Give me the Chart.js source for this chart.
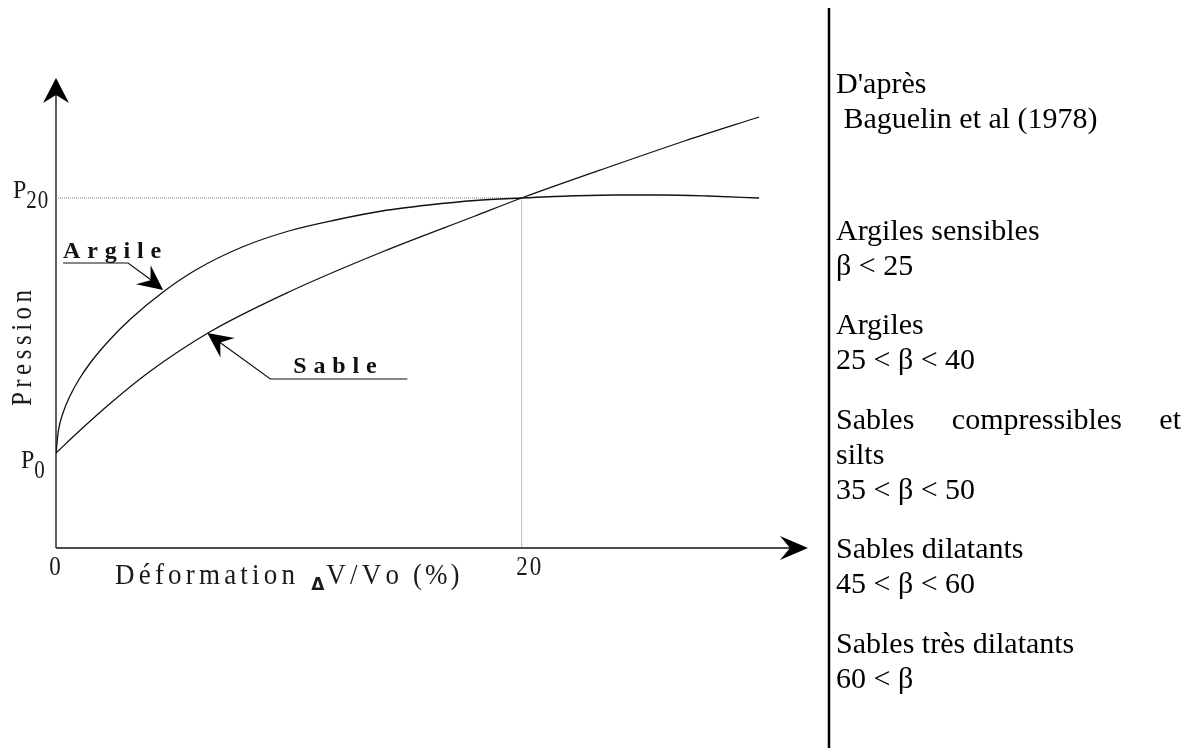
<!DOCTYPE html>
<html>
<head>
<meta charset="utf-8">
<script src="https://cdn.jsdelivr.net/npm/chart.js@4/dist/chart.umd.min.js"></script>
<style>
  html, body { margin: 0; padding: 0; background: #fff; overflow: hidden; }
  canvas { display: block; }
</style>
</head>
<body>
<canvas id="chart" width="1197" height="748"></canvas>
<script>
// Reference pressures (arbitrary units)
const P0 = 0.95;
const P20 = 3.5;

// Pressiometer curves: deformation dV/Vo (%) vs pressure
const argileX = [0, 0.1, 0.3, 0.6, 1, 1.5, 2.3, 3.2, 4.6, 6, 8, 10, 12, 14, 16, 18, 20, 22, 24, 26, 28, 30.2];
const argileY = [0.95, 1.17, 1.35, 1.52, 1.69, 1.86, 2.08, 2.29, 2.56, 2.78, 3.01, 3.17, 3.28, 3.37, 3.43, 3.475, 3.50, 3.52, 3.53, 3.53, 3.52, 3.50];

const sableX = [0, 1, 2.4, 4, 6.6, 10, 14, 18, 20, 24, 27, 30.2];
const sableY = [0.95, 1.17, 1.46, 1.76, 2.16, 2.56, 2.96, 3.32, 3.50, 3.83, 4.07, 4.31];

// Dotted guide through (20 %, P20)
const guideX = [0, 20, 20];
const guideY = [P20, P20, 0];

// Axis tick labels
const xTickValues = [0, 20];
const xTickLabels = ['0', '20'];
const yTickValues = [P0, P20];
const yTickMain = ['P', 'P'];
const yTickSub = ['0', '20'];

// Curve annotations: label and the point of the curve the arrow points at
const noteLabels = ['Argile', 'Sable'];
const noteAtX = [4.6, 6.5];
const noteAtY = [2.58, 2.15];

// Side panel text (paragraphs)
const sideParagraphs = [
  ["D'après", ' Baguelin et al (1978)'],
  ['Argiles sensibles', 'β < 25'],
  ['Argiles', '25 < β < 40'],
  ['Sables compressibles et', 'silts', '35 < β < 50'],
  ['Sables dilatants', '45 < β < 60'],
  ['Sables très dilatants', '60 < β']
];

const pts = (xs, ys) => xs.map((v, i) => ({ x: v, y: ys[i] }));

const SERIF = '"Liberation Serif", "Times New Roman", serif';

// Letter-spaced lettering, optionally stretched vertically; returns advance
function spacedText(ctx, text, x, y, font, spacing, sy, align) {
  ctx.save();
  ctx.font = font;
  const chars = [...text];
  const widths = chars.map(c => ctx.measureText(c).width);
  const total = widths.reduce((a, b) => a + b, 0) + spacing * (chars.length - 1);
  let cx = x;
  if (align === 'center') cx = x - total / 2;
  ctx.translate(0, y);
  ctx.scale(1, sy || 1);
  ctx.textAlign = 'left';
  ctx.textBaseline = 'alphabetic';
  chars.forEach((c, i) => { ctx.fillText(c, cx, 0); cx += widths[i] + spacing; });
  ctx.restore();
  return total + spacing;
}

function chevron(ctx, tx, ty, dx, dy, len, half, notch) {
  const n = Math.hypot(dx, dy); dx /= n; dy /= n;
  const px = -dy, py = dx;
  ctx.beginPath();
  ctx.moveTo(tx, ty);
  ctx.lineTo(tx - len * dx + half * px, ty - len * dy + half * py);
  ctx.lineTo(tx - notch * dx, ty - notch * dy);
  ctx.lineTo(tx - len * dx - half * px, ty - len * dy - half * py);
  ctx.closePath();
  ctx.fill();
}

const decor = {
  id: 'decor',
  beforeDatasetsDraw(chart) {
    const { ctx, scales: { x, y } } = chart;
    const ox = x.getPixelForValue(0), oy = y.getPixelForValue(0);
    ctx.save();
    ctx.lineCap = 'butt';
    ctx.strokeStyle = '#111';
    ctx.lineWidth = 1.6;
    ctx.beginPath(); ctx.moveTo(ox, oy); ctx.lineTo(x.right - 12, oy); ctx.stroke();
    ctx.strokeStyle = '#3a3a3a';
    ctx.beginPath(); ctx.moveTo(ox, oy); ctx.lineTo(ox, y.top + 12); ctx.stroke();
    ctx.fillStyle = '#000';
    chevron(ctx, ox, y.top, 0, -1, 25, 13, 17);
    chevron(ctx, x.right, oy, 1, 0, 28, 12, 18);
    ctx.restore();
  },
  afterDatasetsDraw(chart) {
    const { ctx, scales: { x, y } } = chart;
    const oy = y.getPixelForValue(0);
    ctx.save();
    ctx.fillStyle = '#1a1a1a';
    const tickFont = '23px ' + SERIF;

    // x tick labels
    xTickValues.forEach((v, i) => {
      const px = x.getPixelForValue(v) + (v === 0 ? -1 : 7);
      spacedText(ctx, xTickLabels[i], px, oy + 27, tickFont, 2, 1.15, 'center');
    });

    // y tick labels (P with subscript)
    yTickValues.forEach((v, i) => {
      const py = y.getPixelForValue(v);
      const isTop = i === yTickValues.length - 1;
      const left = isTop ? 13 : 21;
      const base = isTop ? py : py + 15;
      const w = spacedText(ctx, yTickMain[i], left, base, '24px ' + SERIF, 0, 1.08);
      spacedText(ctx, yTickSub[i], left + w, base + 10, '21px ' + SERIF, 1, 1.15);
    });

    // x-axis title
    const tb = oy + 36;
    const axisFont = '27px ' + SERIF;
    let cx = 115;
    cx += spacedText(ctx, 'Déformation', cx, tb, axisFont, 4.2, 1.12) + 12;
    ctx.save();
    ctx.font = 'bold 17px "DejaVu Sans", sans-serif';
    ctx.textAlign = 'left';
    ctx.fillText('Δ', cx, tb + 6);
    cx += ctx.measureText('Δ').width + 2;
    ctx.restore();
    cx += spacedText(ctx, 'V/Vo', cx, tb, axisFont, 4.2, 1.12) + 10;
    spacedText(ctx, '(%)', cx, tb, axisFont, 3, 1.12);

    // y-axis title
    ctx.save();
    ctx.translate(31, (y.top + oy) / 2 + 35);
    ctx.rotate(-Math.PI / 2);
    spacedText(ctx, 'Pression', 0, 0, '25px ' + SERIF, 4.5, 1.15, 'center');
    ctx.restore();

    // curve annotations with arrows
    ctx.strokeStyle = '#111';
    ctx.lineWidth = 1.2;
    const labelFont = 'bold 24px ' + SERIF;
    {
      const tx = x.getPixelForValue(noteAtX[0]), ty = y.getPixelForValue(noteAtY[0]);
      const ex = tx - 35, ey = ty - 27;
      ctx.beginPath();
      ctx.moveTo(tx - 100, ey); ctx.lineTo(ex, ey); ctx.lineTo(tx - 12, ty - 10);
      ctx.stroke();
      ctx.fillStyle = '#000';
      chevron(ctx, tx, ty, tx - ex, ty - ey, 25, 12, 16);
      ctx.fillStyle = '#111';
      spacedText(ctx, noteLabels[0], tx - 100, ty - 32, labelFont, 6.8);
    }
    {
      const tx = x.getPixelForValue(noteAtX[1]), ty = y.getPixelForValue(noteAtY[1]);
      const ex = tx + 63, ey = ty + 46;
      ctx.beginPath();
      ctx.moveTo(tx + 200, ey); ctx.lineTo(ex, ey); ctx.lineTo(tx + 12, ty + 9);
      ctx.stroke();
      ctx.fillStyle = '#000';
      chevron(ctx, tx, ty, tx - ex, ty - ey, 25, 12, 16);
      ctx.fillStyle = '#111';
      spacedText(ctx, noteLabels[1], tx + 86, ty + 40, labelFont, 6.8);
    }

    // side panel divider
    ctx.strokeStyle = '#000';
    ctx.lineWidth = 2.5;
    ctx.beginPath(); ctx.moveTo(829, 8); ctx.lineTo(829, 748); ctx.stroke();

    // side panel text
    ctx.fillStyle = '#000';
    ctx.font = '30px ' + SERIF;
    ctx.textBaseline = 'middle';
    ctx.textAlign = 'left';
    const left = 836, right = 1181, lineStep = 35, paraStep = 59.5;
    let ly = 85;
    sideParagraphs.forEach((para, pi) => {
      if (pi === 1) ly = 232;
      else if (pi > 1) ly += paraStep - lineStep;
      para.forEach((line, li) => {
        const next = para[li + 1];
        const words = line.split(' ');
        // a line that wraps into a lowercase continuation is justified
        if (next && /^[a-z]/.test(next) && words.length > 1) {
          const widths = words.map(w => ctx.measureText(w).width);
          const gap = (right - left - widths.reduce((a, b) => a + b, 0)) / (words.length - 1);
          let wx = left;
          words.forEach((w, wi) => { ctx.fillText(w, wx, ly); wx += widths[wi] + gap; });
        } else {
          ctx.fillText(line, left, ly);
        }
        ly += lineStep;
      });
    });
    ctx.restore();
  }
};

new Chart(document.getElementById('chart').getContext('2d'), {
  type: 'line',
  data: {
    datasets: [
      {
        label: 'Argile',
        data: pts(argileX, argileY),
        borderColor: '#111',
        borderWidth: 1.3,
        pointRadius: 0,
        cubicInterpolationMode: 'monotone',
        order: 1
      },
      {
        label: 'Sable',
        data: pts(sableX, sableY),
        borderColor: '#111',
        borderWidth: 1.3,
        pointRadius: 0,
        cubicInterpolationMode: 'monotone',
        order: 1
      },
      {
        label: 'P20',
        data: pts(guideX, guideY),
        borderColor: '#7a7a7a',
        borderWidth: 1,
        borderDash: [1, 1],
        pointRadius: 0,
        tension: 0,
        order: 3
      }
    ]
  },
  options: {
    responsive: false,
    animation: false,
    events: [],
    layout: { padding: { left: 56, top: 78, right: 389, bottom: 200 } },
    plugins: { legend: { display: false }, tooltip: { enabled: false }, title: { display: false } },
    scales: {
      x: { type: 'linear', min: 0, max: 32.3, display: false },
      y: { type: 'linear', min: 0, max: 4.7, display: false }
    }
  },
  plugins: [decor]
});
</script>
</body>
</html>
